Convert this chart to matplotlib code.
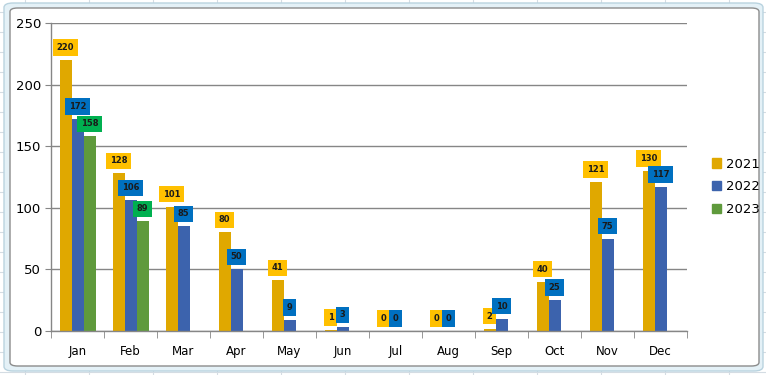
import matplotlib
matplotlib.use("Agg")
import matplotlib.pyplot as plt
from matplotlib.patches import FancyBboxPatch
from matplotlib.lines import Line2D
import numpy as np

months = ["Jan", "Feb", "Mar", "Apr", "May", "Jun", "Jul", "Aug", "Sep", "Oct", "Nov", "Dec"]
series_names = ["2021", "2022", "2023"]
v2021 = [220, 128, 101, 80, 41, 1, 0, 0, 2, 40, 121, 130]
v2022 = [172, 106, 85, 50, 9, 3, 0, 0, 10, 25, 75, 117]
v2023 = [158, 89, None, None, None, None, None, None, None, None, None, None]
yticks = [0, 50, 100, 150, 200, 250]

bar_colors = ["#E0A800", "#3C63AD", "#5F9A3C"]
label_colors = ["#FFC000", "#0070C0", "#00B050"]

W, H = 766, 375
fig = plt.figure(figsize=(W / 100, H / 100), dpi=100)
fig.patch.set_facecolor("white")

# spreadsheet cell grid behind chart
for x in range(25, W, 64):
    fig.add_artist(Line2D([x / W, x / W], [0, 1], color="#D4DCE3", lw=0.8, zorder=0))
for y in range(372, 0, -20):
    fig.add_artist(Line2D([0, 1], [1 - y / H, 1 - y / H], color="#D4DCE3", lw=0.8, zorder=0))

# selection frame and chart area
fig.add_artist(FancyBboxPatch((4 / W, 1 - 371 / H), 759 / W, 368 / H,
                              boxstyle="round,pad=0,rounding_size=0.012",
                              facecolor="#E4F1F7", edgecolor="#B9D3DF", lw=1.0,
                              transform=fig.transFigure, zorder=0.5))
fig.add_artist(FancyBboxPatch((10 / W, 1 - 366 / H), 749 / W, 358 / H,
                              boxstyle="round,pad=0,rounding_size=0.01",
                              facecolor="white", edgecolor="#8C8C8C", lw=1.0,
                              transform=fig.transFigure, zorder=0.6))

ax = fig.add_axes([51 / W, 1 - 331 / H, 636 / W, 308 / H])
ax.set_zorder(1)
ax.patch.set_alpha(0)

x = np.arange(len(months))
bw = 12 / 53
series = [v2021, v2022, v2023]
for i, (vals, name) in enumerate(zip(series, series_names)):
    xs = x + (i - 1) * bw
    hv = [np.nan if v is None else v for v in vals]
    ax.bar(xs, hv, width=bw, color=bar_colors[i], label=name, zorder=2)
    for xi, v in zip(xs, vals):
        if v is None:
            continue
        ax.annotate(str(v), (xi, v), xytext=(0, 9), textcoords="offset points",
                    ha="center", va="center", fontsize=6, fontweight="bold",
                    color="#1A1A1A", zorder=4,
                    bbox=dict(boxstyle="square,pad=0.45", facecolor=label_colors[i],
                              edgecolor="none"))

ax.set_xlim(-0.5, len(months) - 0.5)
ax.set_ylim(0, 250)
ax.set_yticks(yticks)
ax.set_yticklabels([str(t) for t in yticks], fontsize=9.5)
ax.set_xticks(x)
ax.set_xticklabels(months, fontsize=8.5)
ax.set_xticks(np.arange(-0.5, len(months), 1), minor=True)
ax.tick_params(axis="x", which="major", length=0, pad=10)
ax.tick_params(axis="x", which="minor", length=5, color="#868686", direction="out")
ax.tick_params(axis="y", length=4, color="#868686", direction="out", pad=3)
ax.yaxis.grid(True, color="#868686", lw=1.0, zorder=0)
ax.set_axisbelow(True)
for s in ["top", "right"]:
    ax.spines[s].set_visible(False)
for s in ["left", "bottom"]:
    ax.spines[s].set_color("#868686")
    ax.spines[s].set_linewidth(1.0)

handles = [plt.Rectangle((0, 0), 1, 1, color=c) for c in bar_colors]
fig.legend(handles, series_names, loc="center left", bbox_to_anchor=(700 / W, 1 - 187 / H),
           frameon=False, fontsize=9.5, handlelength=0.7, handleheight=0.7,
           handletextpad=0.4, labelspacing=0.75)

fig.savefig("out.png", dpi=100, facecolor=fig.get_facecolor())
